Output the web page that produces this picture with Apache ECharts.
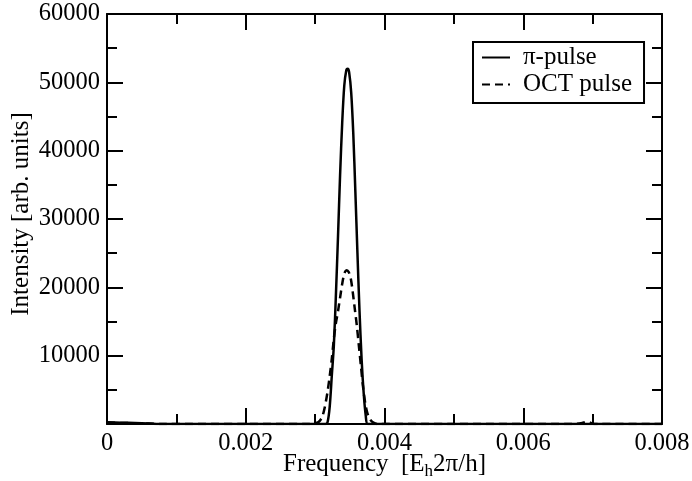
<!DOCTYPE html>
<html>
<head>
<meta charset="utf-8">
<title>Spectrum</title>
<script src="https://cdn.jsdelivr.net/npm/echarts@6/dist/echarts.min.js"></script>
<style>
  html, body { margin: 0; padding: 0; background: #fff; }
  #chart { width: 692px; height: 481px; }
</style>
</head>
<body>
<div id="chart"></div>
<script>
// Spectrum of the pi-pulse and the optimal-control (OCT) pulse
const piFreq = [0, 0.0002, 0.0004, 0.0006, 0.0008, 0.002, 0.0030, 0.00315, 0.00318, 0.00321, 0.00324, 0.00327,
  0.00330, 0.00333, 0.00336, 0.00339, 0.00342, 0.00345, 0.00347, 0.00349, 0.00352, 0.00355,
  0.00358, 0.00361, 0.00364, 0.00367, 0.00370, 0.00373, 0.00376, 0.0040, 0.006, 0.008];
const piIntensity = [250, 200, 150, 80, 0, 0, 0, 0, 300, 2500, 7000, 11500,
  19000, 27500, 36500, 44000, 49500, 51800, 52000, 51500, 48500, 42500,
  34000, 25000, 16500, 9500, 4500, 1200, 0, 0, 0, 0];

const octFreq = [0, 0.0002, 0.0004, 0.0006, 0.0008, 0.002, 0.0029, 0.0030, 0.00305, 0.00310, 0.00314, 0.00318,
  0.00321, 0.00324, 0.00327, 0.00330, 0.00333, 0.00336, 0.00339, 0.00342, 0.00345, 0.00348,
  0.00351, 0.00354, 0.00357, 0.00360, 0.00363, 0.00366, 0.00369, 0.00372, 0.00375, 0.00379,
  0.00384, 0.0039, 0.005, 0.0067, 0.00685, 0.0069, 0.00695, 0.0070, 0.0071, 0.008];
const octIntensity = [200, 150, 120, 60, 0, 0, 0, 100, 300, 1000, 2500, 4800,
  7000, 9500, 12500, 14800, 16500, 18500, 20500, 22000, 22500, 22300,
  21500, 19500, 17000, 14500, 11500, 8500, 5500, 3200, 1700, 700,
  200, 0, 0, 0, 150, 300, 250, 50, 0, 0];

const xTicks = ['0', '0.002', '0.004', '0.006', '0.008'];
const yTicks = ['', '10000', '20000', '30000', '40000', '50000', '60000'];

const FONT = 'Liberation Serif';
const pairs = (xs, ys) => xs.map((x, i) => [x, ys[i]]);

// Frame axes: inward ticks on all four sides
const tickCommon = {
  axisLine: { show: true, onZero: false, lineStyle: { color: '#000', width: 2 } },
  axisTick: { show: true, inside: true, length: 16, lineStyle: { color: '#000', width: 2 } },
  minorTick: { show: true, splitNumber: 2, length: 10, lineStyle: { color: '#000', width: 2 } },
  splitLine: { show: false },
  minorSplitLine: { show: false }
};

const chart = echarts.init(document.getElementById('chart'), null, { renderer: 'canvas' });
chart.setOption({
  backgroundColor: '#fff',
  animation: false,
  grid: { left: 107, right: 30, top: 14, bottom: 57, containLabel: false, outerBoundsMode: 'none' },
  legend: {
    orient: 'vertical',
    left: 473,
    top: 42,
    padding: [3, 12, 6, 8],
    itemGap: 2,
    itemWidth: 28,
    itemHeight: 14,
    borderColor: '#000',
    borderWidth: 2,
    backgroundColor: '#fff',
    itemStyle: { opacity: 0 },
    textStyle: { fontFamily: FONT, fontSize: 25, color: '#000', padding: [0, 0, 0, 8] },
    data: ['π-pulse', 'OCT pulse']
  },
  xAxis: [
    Object.assign({
      type: 'value', min: 0, max: 0.008, interval: 0.002, position: 'bottom',
      name: 'Frequency  [E{sub|h}2π/h]', nameLocation: 'middle', nameGap: 25, nameMoveOverlap: false,
      nameTextStyle: {
        fontFamily: FONT, fontSize: 25, color: '#000',
        rich: { sub: { fontFamily: FONT, fontSize: 17, color: '#000', verticalAlign: 'bottom', padding: [14, 0, 0, 0] } }
      },
      axisLabel: {
        margin: 7, fontFamily: FONT, fontSize: 24.5, color: '#000',
        formatter: (v) => xTicks[Math.round(v / 0.002)]
      }
    }, tickCommon),
    Object.assign({
      type: 'value', min: 0, max: 0.008, interval: 0.002, position: 'top',
      axisLabel: { show: false }
    }, tickCommon)
  ],
  yAxis: [
    Object.assign({
      type: 'value', min: 0, max: 60000, interval: 10000, position: 'left',
      name: 'Intensity [arb. units]', nameLocation: 'middle', nameGap: 73, nameMoveOverlap: false,
      nameTextStyle: { fontFamily: FONT, fontSize: 25, color: '#000', padding: [0, 0, 0, 10] },
      axisLabel: {
        margin: 7, fontFamily: FONT, fontSize: 24.5, color: '#000',
        formatter: (v) => yTicks[Math.round(v / 10000)]
      }
    }, tickCommon),
    Object.assign({
      type: 'value', min: 0, max: 60000, interval: 10000, position: 'right',
      axisLabel: { show: false }
    }, tickCommon)
  ],
  series: [
    {
      name: 'π-pulse', type: 'line', xAxisIndex: 0, yAxisIndex: 0,
      data: pairs(piFreq, piIntensity),
      symbol: 'none', smooth: 0.3, clip: true,
      lineStyle: { color: '#000', width: 2.5, type: 'solid' },
      itemStyle: { color: '#000' }
    },
    {
      name: 'OCT pulse', type: 'line', xAxisIndex: 0, yAxisIndex: 0,
      data: pairs(octFreq, octIntensity),
      symbol: 'none', smooth: 0.3, clip: true,
      lineStyle: { color: '#000', width: 2.5, type: [8, 5] },
      itemStyle: { color: '#000' }
    }
  ]
});
</script>
</body>
</html>
